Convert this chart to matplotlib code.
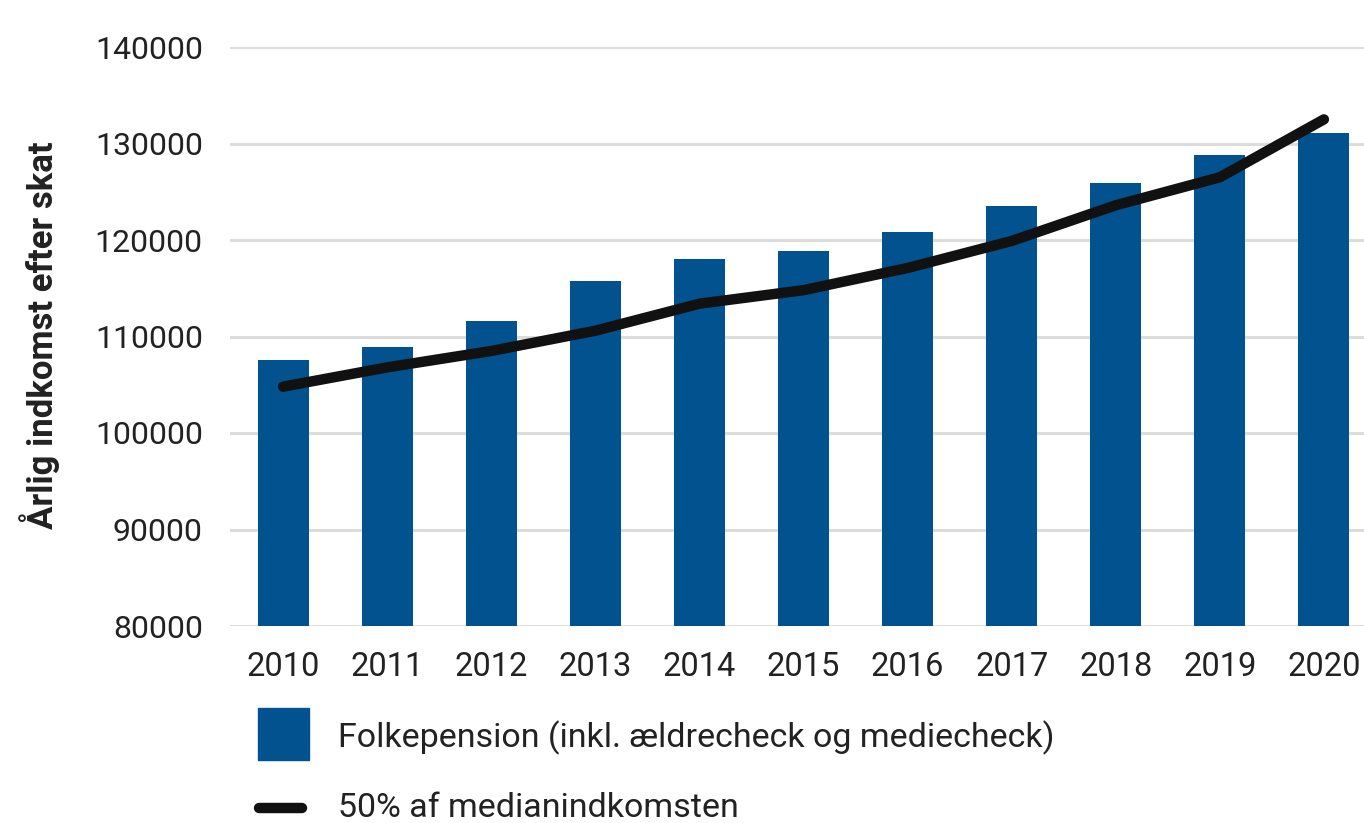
import matplotlib
matplotlib.use("Agg")
import matplotlib.pyplot as plt
from matplotlib.patches import Rectangle
from matplotlib.lines import Line2D

years = ["2010", "2011", "2012", "2013", "2014", "2015", "2016", "2017", "2018", "2019", "2020"]
folkepension = [107600, 108900, 111600, 115800, 118000, 118900, 120800, 123500, 125900, 128800, 131100]
median_half = [104800, 106800, 108500, 110600, 113400, 114800, 117100, 119900, 123600, 126500, 132500]
yticks = [80000, 90000, 100000, 110000, 120000, 130000, 140000]

bar_label = "Folkepension (inkl. ældrecheck og mediecheck)"
line_label = "50% af medianindkomsten"
ylabel = "Årlig indkomst efter skat"

BAR_C = "#01528f"
LINE_C = "#111111"
TXT_C = "#222222"
FONT = ["Roboto", "DejaVu Sans"]

W, H = 1364, 823
fig = plt.figure(figsize=(W / 100, H / 100), dpi=100)

# axes: left 230px, bottom 626px, top 47px; right extends beyond canvas
left_px, right_px, top_px, bot_px = 230, 1377, 47, 626
ax = fig.add_axes([left_px / W, 1 - bot_px / H, (right_px - left_px) / W, (bot_px - top_px) / H])

x = list(range(len(years)))
ax.bar(x, [v - 80000 for v in folkepension], bottom=80000, width=0.49, color=BAR_C, zorder=2)
ax.plot(x, median_half, color=LINE_C, lw=7.5, solid_capstyle="round", solid_joinstyle="round", zorder=3)

ax.set_xlim(-0.51, 10.51)
ax.set_ylim(80000, 140000)
ax.set_yticks(yticks)
ax.set_yticklabels([str(t) for t in yticks], fontsize=23, color=TXT_C, family=FONT)
ax.set_xticks(x)
ax.set_xticklabels(years, fontsize=23.5, color=TXT_C, family=FONT)
ax.tick_params(axis="y", length=0, pad=19.5)
ax.tick_params(axis="x", length=0, pad=18)
ax.grid(axis="y", color="#dcdcdc", lw=2.2, zorder=0)
ax.set_axisbelow(True)
for s in ax.spines.values():
    s.set_visible(False)

fig.text(40 / W, 1 - 335 / H, ylabel, rotation=90, ha="center", va="center",
         fontsize=25, fontweight="bold", color=TXT_C, family=FONT)

# legend
fig.patches.append(Rectangle((258 / W, 1 - 760 / H), 51 / W, 52 / H, transform=fig.transFigure,
                             color=BAR_C, figure=fig))
fig.text(338 / W, 1 - 738 / H, bar_label, ha="left", va="center", fontsize=24.5, color=TXT_C, family=FONT)
fig.lines.append(Line2D([259 / W, 302 / W], [1 - 808 / H, 1 - 808 / H], transform=fig.transFigure,
                        color=LINE_C, lw=7.5, solid_capstyle="round", figure=fig))
fig.text(338 / W, 1 - 808 / H, line_label, ha="left", va="center", fontsize=24.5, color=TXT_C, family=FONT)

fig.savefig("out.png", dpi=100)
